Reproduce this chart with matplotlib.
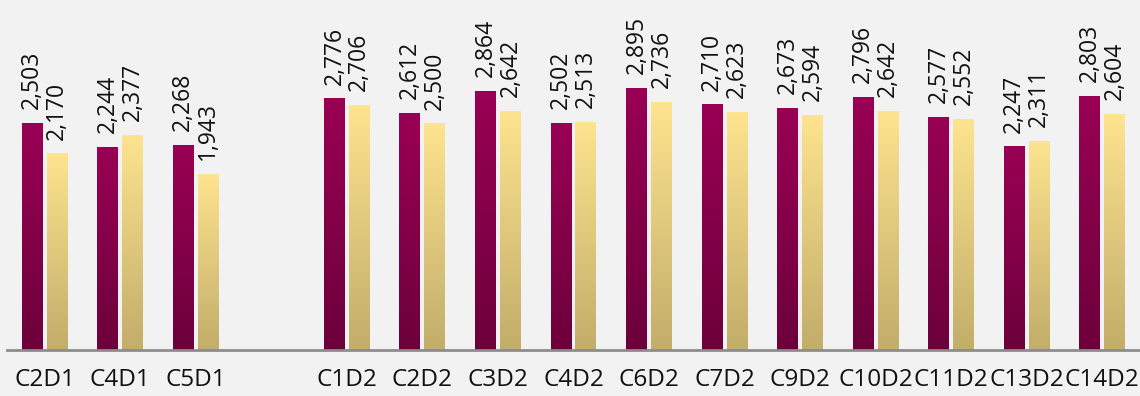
import numpy as np
import matplotlib.pyplot as plt
from matplotlib.colors import LinearSegmentedColormap

plt.rcParams['font.family'] = ['Open Sans', 'DejaVu Sans']

categories = ["C2D1", "C4D1", "C5D1", "",
              "C1D2", "C2D2", "C3D2", "C4D2", "C6D2", "C7D2",
              "C9D2", "C10D2", "C11D2", "C13D2", "C14D2"]
series_a = [2503, 2244, 2268, None,
            2776, 2612, 2864, 2502, 2895, 2710,
            2673, 2796, 2577, 2247, 2803]
series_b = [2170, 2377, 1943, None,
            2706, 2500, 2642, 2513, 2736, 2623,
            2594, 2642, 2552, 2311, 2604]

maroon = LinearSegmentedColormap.from_list("maroon", ["#6c003b", "#9a0054"])
gold = LinearSegmentedColormap.from_list("gold", ["#c2ad6a", "#fee48f"])

fig = plt.figure(figsize=(11.4, 3.96), dpi=100)
fig.patch.set_facecolor("#f2f2f2")
ax = fig.add_axes([7 / 1140, 46 / 396, 1133 / 1140, 350 / 396])
ax.set_facecolor("#f2f2f2")

width = 0.278
offset = 0.165
grad = np.linspace(0, 1, 256).reshape(-1, 1)


def gradient_bar(x, h, cmap):
    bar = ax.bar(x, h, width, color="none", edgecolor="none")[0]
    im = ax.imshow(grad, cmap=cmap, origin="lower", aspect="auto",
                   extent=[x - width / 2, x + width / 2, 0, h], zorder=2)
    im.set_clip_path(bar)
    ax.annotate(f"{h:,}", (x, h), xytext=(0, 10), textcoords="offset points",
                rotation=90, ha="center", va="bottom", fontsize=16.5,
                color="#111111", annotation_clip=False)


xs = np.arange(len(categories))
for i in xs:
    if series_a[i] is None:
        continue
    gradient_bar(i - offset, series_a[i], maroon)
    gradient_bar(i + offset, series_b[i], gold)

ax.set_xlim(-0.5, len(categories) - 0.5)
ax.set_ylim(0, 3863)
ax.set_xticks(xs)
ax.set_xticklabels(categories, fontsize=17.5, color="#111111")
ax.tick_params(axis="x", length=0, pad=13)
ax.set_yticks([])
for side in ["top", "right", "left"]:
    ax.spines[side].set_visible(False)
ax.spines["bottom"].set_color("#8c8c8c")
ax.spines["bottom"].set_linewidth(2)
ax.spines["bottom"].set_zorder(3)

fig.savefig("out.png", dpi=100, facecolor=fig.get_facecolor())
